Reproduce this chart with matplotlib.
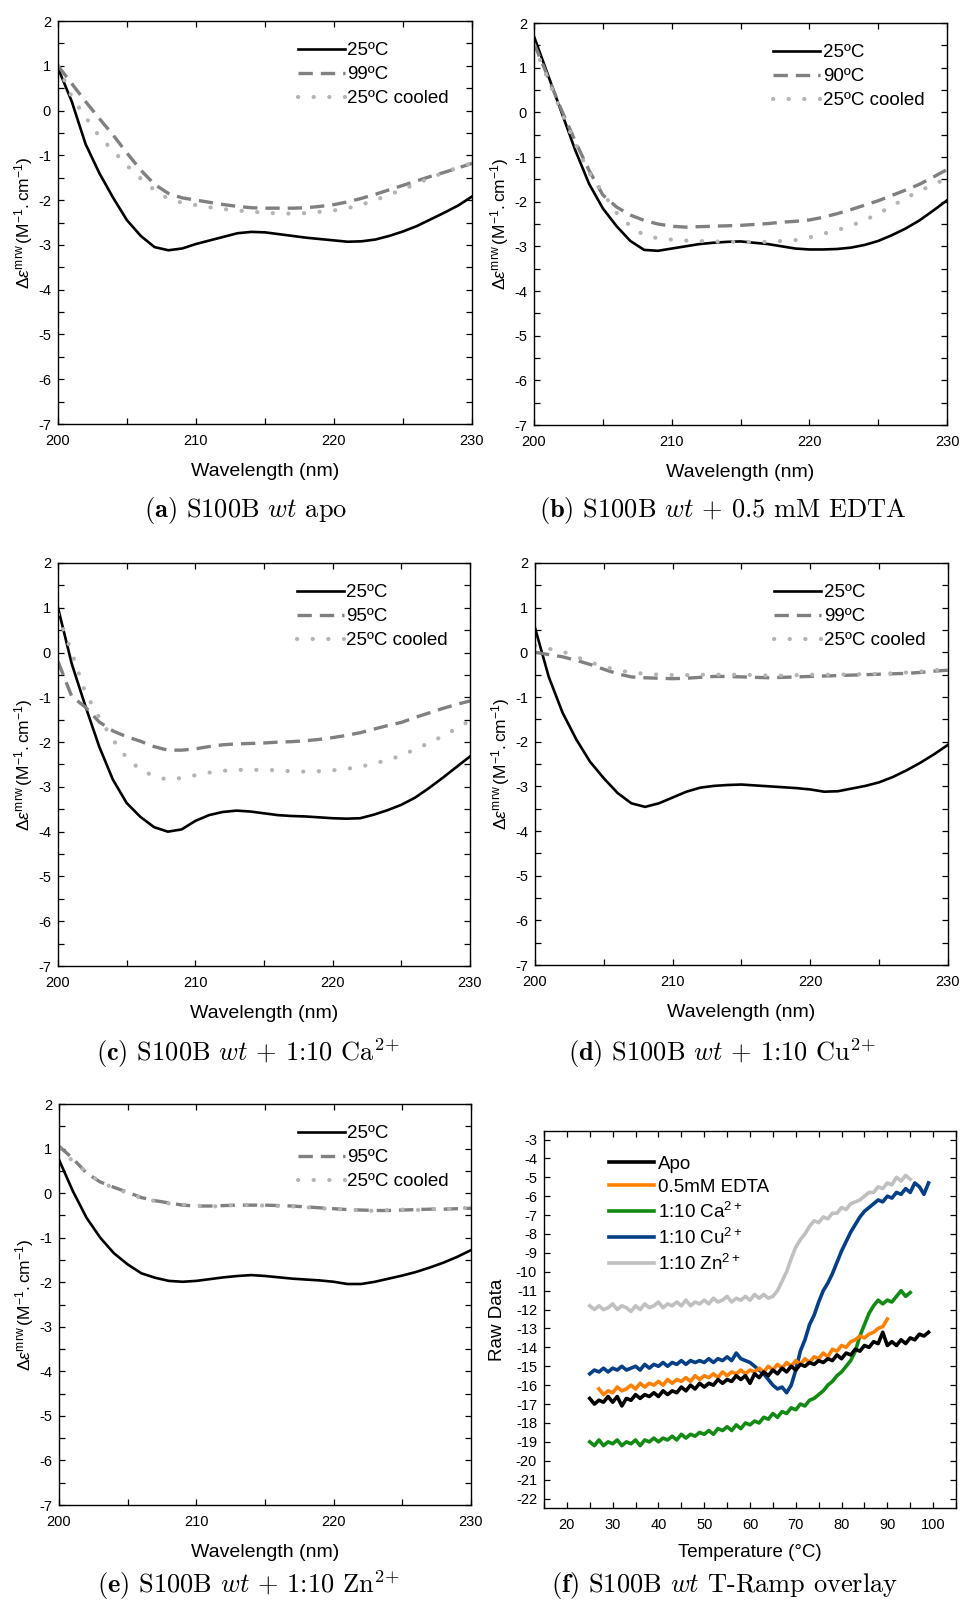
import numpy as np
import matplotlib
matplotlib.use("Agg")
import matplotlib.pyplot as plt
from matplotlib.ticker import MultipleLocator

plt.rcParams['font.family'] = ['Liberation Sans', 'DejaVu Sans']
plt.rcParams['mathtext.fontset'] = 'custom'
plt.rcParams['mathtext.rm'] = 'Liberation Sans'
plt.rcParams['mathtext.it'] = 'Liberation Sans:italic'
plt.rcParams['mathtext.bf'] = 'Liberation Sans:bold'
plt.rcParams['axes.unicode_minus'] = False

# ---- CD spectra (a)-(e) ----
wavelength = np.arange(200, 231)

a_25 = [0.95, 0.2, -0.75, -1.4, -1.95, -2.45, -2.8, -3.05, -3.12, -3.08, -2.98, -2.9, -2.82, -2.74, -2.71, -2.72,
        -2.76, -2.8, -2.84, -2.87, -2.9, -2.93, -2.92, -2.88, -2.8, -2.7, -2.58, -2.43, -2.28, -2.12, -1.92]
a_hot = [1.0, 0.6, 0.2, -0.18, -0.55, -0.95, -1.33, -1.65, -1.85, -1.95, -2.0, -2.05, -2.1, -2.14, -2.17, -2.18,
         -2.18, -2.18, -2.17, -2.14, -2.1, -2.04, -1.96, -1.87, -1.77, -1.67, -1.57, -1.47, -1.38, -1.28, -1.18]
a_cool = [1.0, 0.3, -0.15, -0.58, -0.9, -1.23, -1.52, -1.78, -1.97, -2.06, -2.11, -2.16, -2.2, -2.23, -2.26, -2.28,
          -2.3, -2.3, -2.29, -2.26, -2.23, -2.18, -2.1, -2.0, -1.88, -1.76, -1.63, -1.5, -1.38, -1.27, -1.17]

b_25 = [1.7, 0.85, 0.0, -0.85, -1.6, -2.15, -2.55, -2.88, -3.08, -3.1, -3.05, -3.0, -2.95, -2.92, -2.9, -2.89,
        -2.92, -2.95, -3.0, -3.05, -3.07, -3.07, -3.06, -3.03, -2.97, -2.88, -2.75, -2.6, -2.42, -2.2, -1.97]
b_hot = [1.55, 0.8, 0.05, -0.65, -1.3, -1.85, -2.12, -2.3, -2.42, -2.5, -2.55, -2.57, -2.56, -2.55, -2.54, -2.53,
         -2.51, -2.49, -2.46, -2.44, -2.41, -2.35, -2.27, -2.18, -2.08, -1.98, -1.86, -1.74, -1.61, -1.45, -1.28]
b_cool = [1.5, 0.75, 0.0, -0.7, -1.35, -1.8, -2.25, -2.55, -2.75, -2.82, -2.85, -2.87, -2.88, -2.89, -2.9, -2.9,
          -2.9, -2.9, -2.88, -2.86, -2.8, -2.72, -2.64, -2.54, -2.42, -2.27, -2.1, -1.92, -1.76, -1.62, -1.48]

c_25 = [1.0, -0.25, -1.2, -2.1, -2.84, -3.36, -3.67, -3.9, -4.0, -3.95, -3.76, -3.63, -3.56, -3.53, -3.55, -3.59,
        -3.63, -3.65, -3.66, -3.68, -3.7, -3.71, -3.7, -3.62, -3.52, -3.4, -3.24, -3.03, -2.8, -2.56, -2.32]
c_hot = [-0.2, -0.98, -1.22, -1.55, -1.75, -1.88, -1.98, -2.1, -2.18, -2.18, -2.15, -2.1, -2.06, -2.04, -2.03, -2.02,
         -2.0, -1.99, -1.97, -1.94, -1.9, -1.85, -1.79, -1.71, -1.63, -1.56, -1.45, -1.35, -1.25, -1.16, -1.08]
c_cool = [0.85, 0.0, -0.9, -1.45, -1.95, -2.35, -2.62, -2.76, -2.84, -2.8, -2.74, -2.68, -2.64, -2.62, -2.62, -2.62,
          -2.63, -2.65, -2.66, -2.65, -2.63, -2.6, -2.55, -2.48, -2.4, -2.3, -2.16, -2.02, -1.87, -1.7, -1.52]

d_25 = [0.55, -0.55, -1.35, -1.95, -2.45, -2.82, -3.15, -3.38, -3.46, -3.38, -3.25, -3.12, -3.03, -2.99, -2.97, -2.96,
        -2.98, -3.0, -3.02, -3.04, -3.07, -3.12, -3.11, -3.05, -2.99, -2.91, -2.79, -2.64, -2.47, -2.28, -2.07]
d_hot = [0.0, -0.05, -0.1, -0.18, -0.27, -0.38, -0.48, -0.55, -0.57, -0.58, -0.59, -0.58, -0.56, -0.54, -0.54, -0.55,
         -0.56, -0.57, -0.56, -0.55, -0.54, -0.53, -0.52, -0.51, -0.5, -0.49, -0.48, -0.47, -0.45, -0.42, -0.4]
d_cool = [0.15, 0.08, 0.02, -0.1, -0.22, -0.32, -0.4, -0.45, -0.48, -0.5, -0.51, -0.51, -0.5, -0.5, -0.5, -0.5,
          -0.51, -0.52, -0.52, -0.51, -0.5, -0.5, -0.5, -0.49, -0.49, -0.48, -0.47, -0.45, -0.43, -0.4, -0.37]

e_25 = [0.75, 0.05, -0.55, -1.0, -1.35, -1.6, -1.8, -1.9, -1.97, -1.99, -1.97, -1.93, -1.89, -1.86, -1.84, -1.86,
        -1.89, -1.92, -1.94, -1.96, -1.99, -2.04, -2.04, -1.99, -1.92, -1.85, -1.77, -1.67, -1.56, -1.43, -1.28]
e_hot = [1.05, 0.78, 0.45, 0.25, 0.13, 0.02, -0.1, -0.17, -0.22, -0.27, -0.29, -0.29, -0.28, -0.27, -0.27, -0.27,
         -0.28, -0.29, -0.31, -0.33, -0.35, -0.37, -0.38, -0.39, -0.39, -0.38, -0.37, -0.36, -0.36, -0.35, -0.34]
e_cool = [1.0, 0.72, 0.47, 0.24, 0.12, 0.0, -0.11, -0.18, -0.23, -0.26, -0.28, -0.3, -0.29, -0.26, -0.27, -0.28,
          -0.29, -0.3, -0.32, -0.34, -0.36, -0.37, -0.39, -0.4, -0.38, -0.37, -0.38, -0.35, -0.37, -0.34, -0.33]

hot_labels = ['99\u00baC', '90\u00baC', '95\u00baC', '99\u00baC', '95\u00baC']
captions = [r'$\mathbf{(a)}$ S100B $wt$ apo',
            r'$\mathbf{(b)}$ S100B $wt$ + 0.5 mM EDTA',
            r'$\mathbf{(c)}$ S100B $wt$ + 1:10 Ca$^{2\!+}$',
            r'$\mathbf{(d)}$ S100B $wt$ + 1:10 Cu$^{2\!+}$',
            r'$\mathbf{(e)}$ S100B $wt$ + 1:10 Zn$^{2\!+}$',
            r'$\mathbf{(f)}$ S100B $wt$ T-Ramp overlay']

# ---- T-ramp (f) ----
t_apo = np.arange(25, 100)
apo = [-16.7, -17.0, -16.8, -16.9, -16.6, -16.9, -16.6, -17.1, -16.7, -16.8, -16.5, -16.7, -16.5, -16.6, -16.4,
       -16.6, -16.3, -16.5, -16.3, -16.4, -16.1, -16.3, -16.0, -16.2, -15.9, -16.1, -15.9, -16.0, -15.7, -15.9,
       -15.7, -15.8, -15.5, -15.7, -15.5, -15.9, -15.4, -15.6, -15.3, -15.5, -15.2, -15.4, -15.1, -15.3, -15.0,
       -15.2, -14.9, -15.0, -14.8, -14.9, -14.7, -14.8, -14.6, -14.7, -14.4, -14.6, -14.3, -14.4, -14.1, -14.2,
       -13.9, -14.0, -13.7, -13.8, -13.2, -13.9, -13.7, -13.9, -13.6, -13.8, -13.5, -13.6, -13.3, -13.4, -13.2]
t_edta = np.arange(27, 91)
edta = [-16.2, -16.5, -16.3, -16.4, -16.1, -16.3, -16.2, -16.0, -16.2, -15.9, -16.1, -15.9, -16.0, -15.8, -16.0,
        -15.7, -15.9, -15.7, -15.8, -15.6, -15.8, -15.5, -15.7, -15.5, -15.6, -15.4, -15.6, -15.3, -15.5, -15.3,
        -15.4, -15.2, -15.4, -15.2, -15.3, -15.1, -15.3, -15.0, -15.2, -14.9, -15.1, -14.8, -15.0, -14.7, -14.9,
        -14.6, -14.8, -14.5, -14.6, -14.3, -14.5, -14.1, -14.2, -13.9, -14.0, -13.7, -13.6, -13.4, -13.5, -13.3,
        -13.2, -13.0, -12.9, -12.5]
t_ca = np.arange(25, 96)
ca = [-19.0, -19.2, -18.9, -19.2, -19.0, -19.1, -18.9, -19.2, -19.0, -19.1, -18.9, -19.2, -18.9, -19.0, -18.8,
      -19.0, -18.8, -18.9, -18.7, -18.9, -18.6, -18.8, -18.6, -18.7, -18.5, -18.6, -18.4, -18.6, -18.3, -18.4,
      -18.2, -18.4, -18.1, -18.3, -18.0, -18.1, -17.9, -18.0, -17.7, -17.8, -17.5, -17.7, -17.4, -17.5, -17.2,
      -17.3, -17.0, -17.1, -16.8, -16.7, -16.5, -16.3, -16.0, -15.8, -15.5, -15.3, -15.0, -14.7, -14.2, -13.4,
      -12.8, -12.2, -11.8, -11.5, -11.7, -11.5, -11.6, -11.3, -11.0, -11.3, -11.1]
t_cu = np.arange(25, 100)
cu = [-15.4, -15.2, -15.3, -15.1, -15.3, -15.1, -15.2, -15.0, -15.2, -15.1, -15.0, -15.2, -14.9, -15.1, -14.9,
      -15.0, -14.8, -15.0, -14.8, -14.9, -14.7, -14.9, -14.7, -14.8, -14.7, -14.8, -14.6, -14.8, -14.6, -14.7,
      -14.5, -14.7, -14.3, -14.6, -14.7, -14.8, -15.0, -15.2, -15.4, -15.7, -16.0, -16.2, -16.1, -16.4, -16.0,
      -15.2, -14.2, -13.6, -12.8, -12.3, -11.6, -11.0, -10.6, -10.1, -9.5, -8.9, -8.4, -7.9, -7.5, -7.1,
      -6.8, -6.6, -6.4, -6.2, -6.3, -6.0, -6.1, -5.8, -5.9, -5.6, -5.8, -5.3, -5.5, -5.9, -5.3]
t_zn = np.arange(25, 96)
zn = [-11.8, -12.0, -11.8, -12.0, -11.9, -11.7, -12.0, -11.8, -11.9, -12.1, -11.8, -12.0, -11.7, -11.9, -11.8,
      -11.6, -11.9, -11.7, -11.8, -11.6, -11.8, -11.5, -11.8, -11.6, -11.7, -11.5, -11.7, -11.4, -11.6, -11.5,
      -11.3, -11.6, -11.4, -11.5, -11.3, -11.5, -11.2, -11.4, -11.2, -11.4, -11.3, -11.0, -10.5, -10.0, -9.3,
      -8.7, -8.3, -8.0, -7.6, -7.3, -7.4, -7.1, -7.2, -6.9, -6.9, -6.6, -6.7, -6.4, -6.3, -6.2,
      -6.0, -5.8, -5.8, -5.5, -5.6, -5.3, -5.4, -5.0, -5.2, -4.9, -5.1]

ramp_labels = ['Apo', '0.5mM EDTA', '1:10 Ca$^{2+}$', '1:10 Cu$^{2+}$', '1:10 Zn$^{2+}$']
ramp_colors = ['#000000', '#ff8000', '#138a13', '#053f85', '#c0c0c0']

W, H = 964, 1601
fig = plt.figure(figsize=(W / 100, H / 100), dpi=100)


def box(l, r, t, b):
    return [l / W, 1 - b / H, (r - l) / W, (b - t) / H]


cd_boxes = [box(58, 472, 21, 424), box(534, 947, 23, 425), box(58, 470, 563, 966),
            box(535, 948, 563, 965), box(59, 471, 1104, 1505)]
cd_sets = [(a_25, a_hot, a_cool), (b_25, b_hot, b_cool), (c_25, c_hot, c_cool),
           (d_25, d_hot, d_cool), (e_25, e_hot, e_cool)]


def style_ticks(ax, size):
    ax.tick_params(which='both', direction='in', top=True, right=True, length=4, width=0.9,
                   labelsize=size)
    ax.tick_params(axis='x', which='both', pad=7)
    ax.tick_params(axis='y', which='both', pad=5)
    for s in ax.spines.values():
        s.set_linewidth(1.0)


for i, (rect, (s25, shot, scool)) in enumerate(zip(cd_boxes, cd_sets)):
    ax = fig.add_axes(rect)
    ax.plot(wavelength, s25, color='black', lw=1.9, label='25\u00baC')
    ax.plot(wavelength, shot, color='#808080', lw=2.4, dashes=(4.3, 2.4), label=hot_labels[i])
    ax.plot(wavelength, scool, color='#b4b4b4', lw=3.0, linestyle=(0, (0.05, 3.7)),
            dash_capstyle='round', label='25\u00baC cooled')
    ax.set_xlim(200, 230)
    ax.set_ylim(-7, 2)
    ax.xaxis.set_major_locator(MultipleLocator(10))
    ax.xaxis.set_minor_locator(MultipleLocator(5))
    ax.yaxis.set_major_locator(MultipleLocator(1))
    ax.yaxis.set_minor_locator(MultipleLocator(0.5))
    style_ticks(ax, 10.5)
    ax.set_xlabel('Wavelength (nm)', fontsize=14, labelpad=11)
    ax.set_ylabel(r'$\Delta\varepsilon^{\rm mrw}\,(\rm M^{-1}.cm^{-1})$', fontsize=12.5, labelpad=2)
    ax.legend(loc='upper left', bbox_to_anchor=(0.552, 0.975), frameon=False, fontsize=13.5,
              handlelength=2.5, handletextpad=0.15, labelspacing=0.36, borderaxespad=0.2)

# panel f
ax = fig.add_axes(box(544, 956, 1131, 1508))
ramp = [(t_apo, apo), (t_edta, edta), (t_ca, ca), (t_cu, cu), (t_zn, zn)]
order = [4, 3, 2, 1, 0]
lines = {}
for k in order:
    t, v = ramp[k]
    lines[k], = ax.plot(t, v, color=ramp_colors[k], lw=2.6, label=ramp_labels[k])
ax.set_xlim(15, 105)
ax.set_ylim(-22.5, -2.55)
ax.xaxis.set_minor_locator(MultipleLocator(5))
ax.set_xticks(np.arange(20, 101, 10))
ax.set_yticks(np.arange(-22, -2, 1))
style_ticks(ax, 10.5)
ax.set_xlabel('Temperature (\u00b0C)', fontsize=13.5, labelpad=9)
ax.set_ylabel('Raw Data', fontsize=13.5, labelpad=7)
ax.legend([lines[k] for k in range(5)], ramp_labels, loc='upper left', bbox_to_anchor=(0.13, 0.965),
          frameon=False, fontsize=13.5, handlelength=2.4, handletextpad=0.2, labelspacing=0.32,
          borderaxespad=0.2)

cap_pos = [(246, 511), (723, 511), (248, 1053), (722, 1053), (248, 1585), (725, 1585)]
for (cx, cy), txt in zip(cap_pos, captions):
    fig.text(cx / W, 1 - cy / H, txt, ha='center', va='center', fontsize=19,
             family='cmr10', math_fontfamily='cm')

fig.savefig('out.png', dpi=100)
